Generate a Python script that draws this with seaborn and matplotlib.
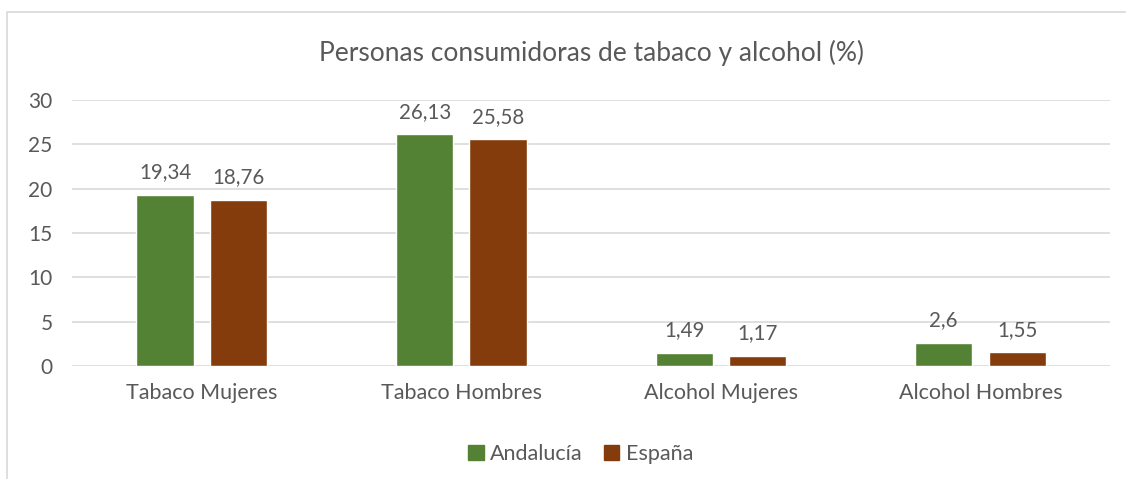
import pandas as pd
import matplotlib.pyplot as plt
import matplotlib.patches as mpatches
import seaborn as sns

# -----------------------------
# Data
# -----------------------------
categorias = ['Tabaco Mujeres', 'Tabaco Hombres', 'Alcohol Mujeres', 'Alcohol Hombres']
andalucia = [19.34, 26.13, 1.49, 2.6]
espana = [18.76, 25.58, 1.17, 1.55]
series = ['Andalucía', 'España']
colores = ['#548235', '#843C0C']

df = pd.DataFrame({
    'categoria': categorias * 2,
    'valor': andalucia + espana,
    'serie': [series[0]] * 4 + [series[1]] * 4,
})

# -----------------------------
# Plot
# -----------------------------
sns.set_style('white')
plt.rcParams['font.family'] = ['Lato', 'DejaVu Sans']
texto = '#595959'

fig = plt.figure(figsize=(11.26, 4.79), dpi=100)
ax = fig.add_axes([0.064, 0.236, 0.922, 0.555])

sns.barplot(data=df, x='categoria', y='valor', hue='serie', palette=colores,
            width=0.566, gap=0.22, ax=ax, saturation=1, legend=True)

ax.set_ylim(0, 30)
ax.set_yticks(range(0, 31, 5))
ax.yaxis.grid(True, color='#d9d9d9', linewidth=1.2)
ax.set_axisbelow(True)
for s in ax.spines.values():
    s.set_visible(False)
ax.tick_params(axis='both', length=0, labelsize=15, labelcolor=texto)
ax.tick_params(axis='x', labelsize=15.5, pad=12)
ax.tick_params(axis='y', pad=14)
ax.set_xlabel('')
ax.set_ylabel('')

# value labels with decimal comma
for cont in ax.containers:
    etiquetas = [f'{v:g}'.replace('.', ',') for v in cont.datavalues]
    ax.bar_label(cont, labels=etiquetas, padding=9, fontsize=14.8, color=texto)

ax.set_title('Personas consumidoras de tabaco y alcohol (%)', fontsize=19,
             color=texto, pad=28)

handles = [mpatches.Patch(color=c) for c in colores]
ax.legend(handles, series, loc='upper center', bbox_to_anchor=(0.49, -0.22),
          ncol=2, frameon=False, fontsize=15.5, labelcolor=texto,
          handlelength=0.7, handleheight=0.7, handletextpad=0.3, columnspacing=1.0)

# chart border
fig.patches.append(mpatches.Rectangle((7 / 1126, -0.1), 1.2, 0.1 + (479 - 12) / 479,
                                      transform=fig.transFigure, fill=False,
                                      edgecolor='#d9d9d9', linewidth=1.2))

plt.savefig('out.png', dpi=100)
